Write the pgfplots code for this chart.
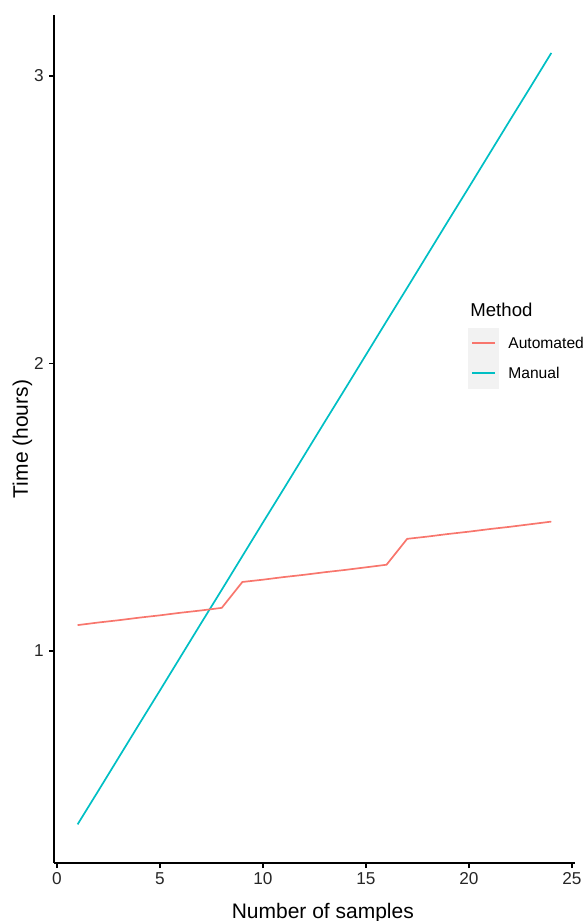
\documentclass[border=0pt]{standalone}
\usepackage{fontspec}
\setmainfont{Liberation Sans}
\usepackage{pgfplots}
\pgfplotsset{compat=1.18}
\definecolor{autoc}{HTML}{F8766D}
\definecolor{manc}{HTML}{00BFC4}
\definecolor{keybg}{HTML}{F2F2F2}
\begin{document}
\begin{tikzpicture}
\useasboundingbox (0pt,0pt) rectangle (292.5pt,460.5pt);
\clip (0pt,0pt) rectangle (292.5pt,460.5pt);
\begin{axis}[
  at={(27pt,29pt)}, anchor=south west,
  scale only axis, width=260.5pt, height=424pt,
  xmin=-0.146, xmax=25.15, ymin=0.2626, ymax=3.212,
  axis x line*=bottom, axis y line*=left,
  axis line style={line width=0.7pt, black, -},
  xtick={0,5,10,15,20,25}, ytick={1,2,3},
  tick align=outside, major tick length=2.5pt,
  tick style={line width=0.6pt, black},
  /pgf/number format/assume math mode=true,
  ticklabel style={font=\fontsize{8.6}{10}\selectfont, text=black!85},
  xticklabel style={inner sep=0pt, yshift=-2pt},
  yticklabel style={inner sep=0pt, xshift=-2.5pt},
  xlabel={Number of samples},
  ylabel={Time (hours)},
  xlabel style={at={(axis description cs:0.516,0)}, anchor=base, yshift=-27.5pt, font=\fontsize{10.5}{12}\selectfont},
  ylabel style={at={(axis description cs:0,0.5)}, anchor=center, rotate=0, yshift=15.75pt, font=\fontsize{10.5}{12}\selectfont},
  clip=false,
]
\addplot[manc, line width=0.85pt] coordinates {
(1,0.397) (2,0.513) (3,0.630) (4,0.747) (5,0.863) (6,0.980) (7,1.097) (8,1.213)
(9,1.330) (10,1.447) (11,1.563) (12,1.680) (13,1.797) (14,1.913) (15,2.030) (16,2.147)
(17,2.263) (18,2.380) (19,2.497) (20,2.613) (21,2.730) (22,2.847) (23,2.963) (24,3.080)};
\addplot[autoc, line width=0.85pt] coordinates {
(1,1.090) (2,1.099) (3,1.107) (4,1.116) (5,1.124) (6,1.133) (7,1.141) (8,1.150)
(9,1.240) (10,1.248) (11,1.257) (12,1.265) (13,1.274) (14,1.282) (15,1.291) (16,1.300)
(17,1.390) (18,1.398) (19,1.407) (20,1.415) (21,1.424) (22,1.432) (23,1.441) (24,1.450)};
\end{axis}
% legend
\fill[keybg] (234pt,266pt) rectangle (249.5pt,296.5pt);
\draw[autoc, line width=0.85pt] (236pt,289pt) -- (247.5pt,289pt);
\draw[manc, line width=0.85pt] (236pt,274pt) -- (247.5pt,274pt);
\node[anchor=base west, inner sep=0pt, font=\fontsize{9.3}{11}\selectfont] at (235pt,302pt) {Method};
\node[anchor=west, inner sep=0pt, font=\fontsize{7.8}{9}\selectfont] at (254pt,289pt) {Automated};
\node[anchor=west, inner sep=0pt, font=\fontsize{7.8}{9}\selectfont] at (254pt,274pt) {Manual};
\end{tikzpicture}
\end{document}
